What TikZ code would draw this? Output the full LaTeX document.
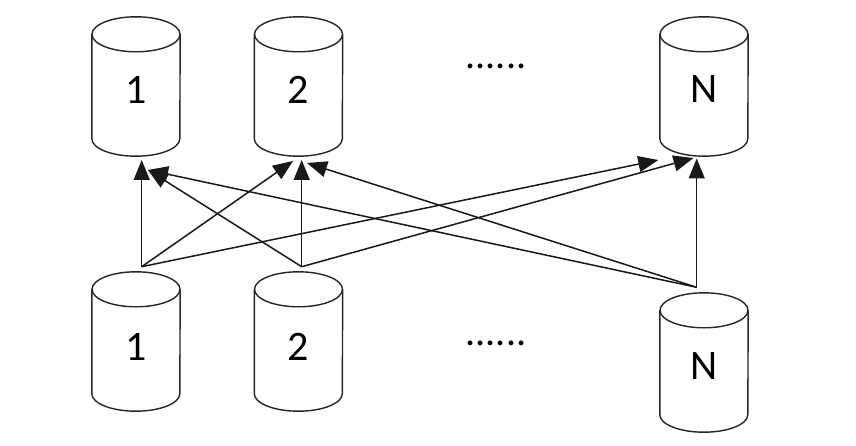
\documentclass[tikz,border=0pt]{standalone}
\usepackage{fontspec}
\setmainfont{Carlito}
\usetikzlibrary{arrows.meta,calc}
\newcommand\dbcyl[3]{%
  \node[minimum width=88pt, minimum height=139pt, inner sep=0pt] (#1) at (#2,#3) {};
  \draw[cylline] ($(#1.north)+(0,-17.5)$) ellipse [x radius=44, y radius=17.5];
  \draw[cylline] ($(#1.north west)+(0,-17.5)$) -- ($(#1.south west)+(0,17.5)$)
    arc[start angle=180, end angle=360, x radius=44, y radius=17.5]
    -- ($(#1.north east)+(0,-17.5)$);
}
\begin{document}
\begin{tikzpicture}[x=1pt,y=1pt,
  cylline/.style={draw=black!85, line width=1.4pt},
  lbl/.style={font=\fontsize{42}{42}\selectfont, inner sep=0pt, text=black},
  dots/.style={font=\fontsize{40}{40}\selectfont, inner sep=0pt, text=black},
  conn/.style={draw=black!90, line width=1.5pt, -{Triangle[length=20pt,width=16pt]}},
]
\useasboundingbox[fill=white] (0,0) rectangle (856,445);

% top row
\dbcyl{t1}{136}{358.5}
\dbcyl{t2}{298.5}{358.5}
\dbcyl{tN}{704}{358.5}
\node[lbl] (t1l) at (136,355.5) {1};
\node[lbl] (t2l) at (298.5,355.5) {2};
\node[lbl] (tNl) at (704,355.5) {N};
\node[dots] (tdots) at (496,379) {......};

% bottom row
\dbcyl{b1}{136}{103.5}
\dbcyl{b2}{298.5}{103.5}
\dbcyl{bN}{704}{82.5}
\node[lbl] (b1l) at (136,98.3) {1};
\node[lbl] (b2l) at (298.5,98.3) {2};
\node[lbl] (bNl) at (704,79) {N};
\node[dots] (bdots) at (496,101.7) {......};

% connector end points
\coordinate (b1s) at (141.7,178.3);
\coordinate (b2s) at (301.7,178.3);
\coordinate (bNs) at (696.7,157.7);
\coordinate (t1a) at (141.7,285);
\coordinate (t1b) at (148,275);
\coordinate (t2a) at (293,284);
\coordinate (t2b) at (301.7,285);
\coordinate (t2c) at (307,282);
\coordinate (tNa) at (658.3,285);
\coordinate (tNb) at (693.5,287);
\coordinate (tNc) at (696.7,286.5);

\draw[conn] (b1s) -- (t1a);
\draw[conn] (b1s) -- (t2a);
\draw[conn] (b1s) -- (tNa);
\draw[conn] (b2s) -- (t1b);
\draw[conn] (b2s) -- (t2b);
\draw[conn] (b2s) -- (tNb);
\draw[conn] (bNs) -- (t1b);
\draw[conn] (bNs) -- (t2c);
\draw[conn] (bNs) -- (tNc);
\end{tikzpicture}
\end{document}
